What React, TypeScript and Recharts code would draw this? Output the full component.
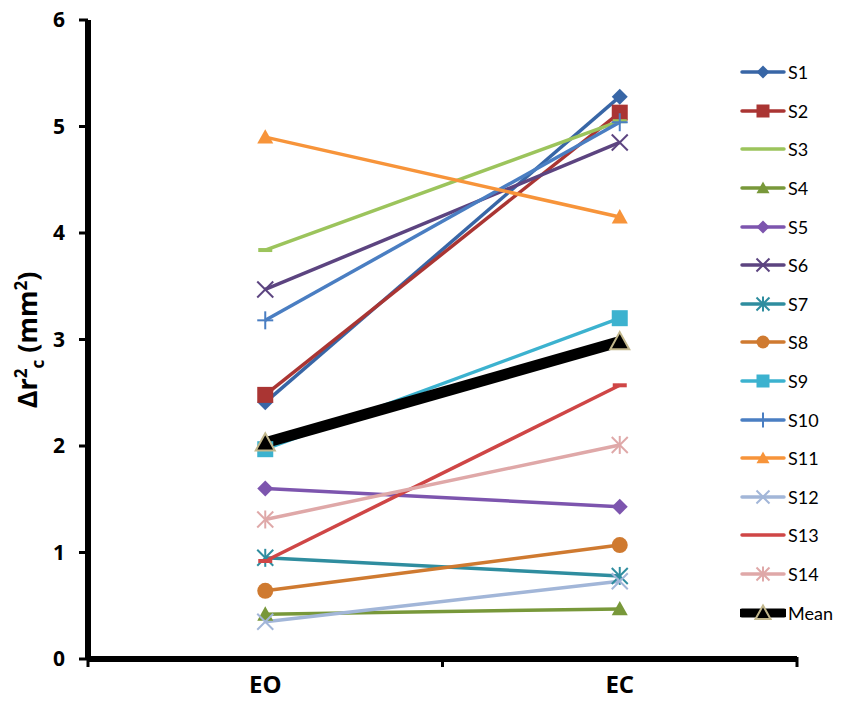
import React from 'react'
import { LineChart, Line, XAxis, YAxis, Legend } from 'recharts'

const categories = ['EO', 'EC']
const seriesNames = ['S1', 'S2', 'S3', 'S4', 'S5', 'S6', 'S7', 'S8', 'S9', 'S10', 'S11', 'S12', 'S13', 'S14', 'Mean']

const s1 = [2.41, 5.28]
const s2 = [2.48, 5.13]
const s3 = [3.84, 5.05]
const s4 = [0.42, 0.47]
const s5 = [1.6, 1.43]
const s6 = [3.47, 4.85]
const s7 = [0.95, 0.78]
const s8 = [0.64, 1.07]
const s9 = [1.97, 3.2]
const s10 = [3.18, 5.04]
const s11 = [4.9, 4.15]
const s12 = [0.35, 0.73]
const s13 = [0.92, 2.57]
const s14 = [1.31, 2.01]
const mean = [2.03, 2.98]

const yTicks = [0, 1, 2, 3, 4, 5, 6]

const values = [s1, s2, s3, s4, s5, s6, s7, s8, s9, s10, s11, s12, s13, s14, mean]

const data = categories.map((condition, i) => {
  const row: Record<string, string | number> = { condition }
  seriesNames.forEach((name, k) => {
    row[name] = values[k][i]
  })
  return row
})

const colors = [
  '#3866a6', '#aa3533', '#9cc45c', '#78983a', '#7d55ae', '#5c4480', '#2f8d9f',
  '#cf7a30', '#3cb2cf', '#4a7ec2', '#f7943a', '#a2b6d8', '#cf4646', '#dfa8a8', '#000000',
]
const shapes = [
  'diamond', 'square', 'dash', 'triangle', 'diamond', 'x', 'star',
  'circle', 'square', 'plus', 'triangle', 'x', 'dash', 'star', 'triangle',
]

// plot area geometry (matches Excel's layout)
const PLOT_LEFT = 88
const PLOT_RIGHT = 797
const BAND = (PLOT_RIGHT - PLOT_LEFT) / categories.length

type MarkerProps = { shape: string; cx: number; cy: number; color: string; size: number; mean?: boolean }

function Marker({ shape, cx, cy, color, size, mean: isMean }: MarkerProps) {
  const h = size / 2
  if (shape === 'diamond') {
    return <polygon points={`${cx},${cy - h} ${cx + h},${cy} ${cx},${cy + h} ${cx - h},${cy}`} fill={color} />
  }
  if (shape === 'square') {
    return <rect x={cx - h} y={cy - h} width={size} height={size} fill={color} />
  }
  if (shape === 'triangle') {
    return (
      <polygon
        points={`${cx},${cy - h} ${cx + h},${cy + h * 0.8} ${cx - h},${cy + h * 0.8}`}
        fill={color}
        stroke={isMean ? '#c2b78c' : 'none'}
        strokeWidth={isMean ? 2 : 0}
      />
    )
  }
  if (shape === 'circle') {
    return <circle cx={cx} cy={cy} r={h} fill={color} />
  }
  if (shape === 'x') {
    return (
      <g stroke={color} strokeWidth={2}>
        <line x1={cx - h} y1={cy - h} x2={cx + h} y2={cy + h} />
        <line x1={cx - h} y1={cy + h} x2={cx + h} y2={cy - h} />
      </g>
    )
  }
  if (shape === 'star') {
    return (
      <g stroke={color} strokeWidth={2}>
        <line x1={cx - h} y1={cy - h} x2={cx + h} y2={cy + h} />
        <line x1={cx - h} y1={cy + h} x2={cx + h} y2={cy - h} />
        <line x1={cx} y1={cy - h - 1} x2={cx} y2={cy + h + 1} />
      </g>
    )
  }
  if (shape === 'plus') {
    return (
      <g stroke={color} strokeWidth={2}>
        <line x1={cx} y1={cy - h - 1} x2={cx} y2={cy + h + 1} />
        <line x1={cx - h} y1={cy} x2={cx + h} y2={cy} />
      </g>
    )
  }
  if (shape === 'dash') {
    return <line x1={cx - h} y1={cy} x2={cx + h} y2={cy} stroke={color} strokeWidth={4} />
  }
  return <g />
}

function XTick(props: any) {
  const { x, y, payload, index } = props
  const tickTop = y - 10
  return (
    <g>
      <text
        x={x}
        y={y + 26}
        textAnchor="middle"
        fontFamily="Open Sans, sans-serif"
        fontWeight="bold"
        fontSize={24}
        fill="#000"
      >
        {payload.value}
      </text>
      {index === 0 && (
        <line x1={x - BAND / 2} y1={tickTop} x2={x - BAND / 2} y2={tickTop + 10} stroke="#000" strokeWidth={3} />
      )}
      <line x1={x + BAND / 2} y1={tickTop} x2={x + BAND / 2} y2={tickTop + 10} stroke="#000" strokeWidth={3} />
    </g>
  )
}

function YLabel() {
  return (
    <text
      transform="translate(37, 340) rotate(-90)"
      textAnchor="middle"
      fontFamily="Open Sans, sans-serif"
      fontWeight="bold"
      fontSize={27}
      fill="#000"
    >
      Δr
      <tspan dy={-10} fontSize={17}>2</tspan>
      <tspan dy={17} fontSize={17}>c</tspan>
      <tspan dy={-7}> (mm</tspan>
      <tspan dy={-10} fontSize={17}>2</tspan>
      <tspan dy={10}>)</tspan>
    </text>
  )
}

function ChartLegend() {
  return (
    <div style={{ fontFamily: 'Lato, sans-serif', fontSize: 18, color: '#000' }}>
      {seriesNames.map((name, k) => (
        <div key={name} style={{ height: 38.6, display: 'flex', alignItems: 'center' }}>
          <svg width={46} height={22} style={{ display: 'block' }}>
            <line x1={2} y1={11} x2={44} y2={11} stroke={colors[k]} strokeWidth={k === 14 ? 9 : 3.5} strokeLinecap="round" />
            {shapes[k] !== 'dash' && (
              <Marker shape={shapes[k]} cx={23} cy={11} color={colors[k]} size={k === 14 ? 15 : 13} mean={k === 14} />
            )}
          </svg>
          <span style={{ marginLeft: 2 }}>{name}</span>
        </div>
      ))}
    </div>
  )
}

export default function App() {
  return (
    <div style={{ position: 'absolute', left: 0, top: 0, width: 850, height: 725, background: '#fff' }}>
      <LineChart width={850} height={725} data={data} margin={{ top: 20, right: 850 - PLOT_RIGHT, bottom: 16, left: 28 }}>
        <XAxis
          dataKey="condition"
          height={50}
          padding={{ left: BAND / 2, right: BAND / 2 }}
          axisLine={{ stroke: '#000', strokeWidth: 6 }}
          tickLine={false}
          tick={<XTick />}
          interval={0}
        />
        <YAxis
          width={60}
          domain={[0, 6]}
          ticks={yTicks}
          interval={0}
          axisLine={{ stroke: '#000', strokeWidth: 6 }}
          tickLine={{ stroke: '#000', strokeWidth: 3 }}
          tickSize={9}
          tickMargin={14}
          tick={{ fill: '#000', fontSize: 21, fontWeight: 'bold', fontFamily: 'Open Sans, sans-serif' }}
          label={<YLabel />}
        />
        <Legend
          layout="vertical"
          align="center"
          verticalAlign="middle"
          content={<ChartLegend />}
          wrapperStyle={{ left: 740, top: 53, width: 110 }}
        />
        {seriesNames.map((name, k) => (
          <Line
            key={name}
            dataKey={name}
            type="linear"
            stroke={colors[k]}
            strokeWidth={k === 14 ? 11 : 3.5}
            isAnimationActive={false}
            activeDot={false}
            dot={(p: any) => (
              <Marker
                key={`${name}-${p.index}`}
                shape={shapes[k]}
                cx={p.cx}
                cy={p.cy}
                color={colors[k]}
                size={k === 14 ? 19 : shapes[k] === 'dash' ? 14 : 16}
                mean={k === 14}
              />
            )}
          />
        ))}
      </LineChart>
    </div>
  )
}
